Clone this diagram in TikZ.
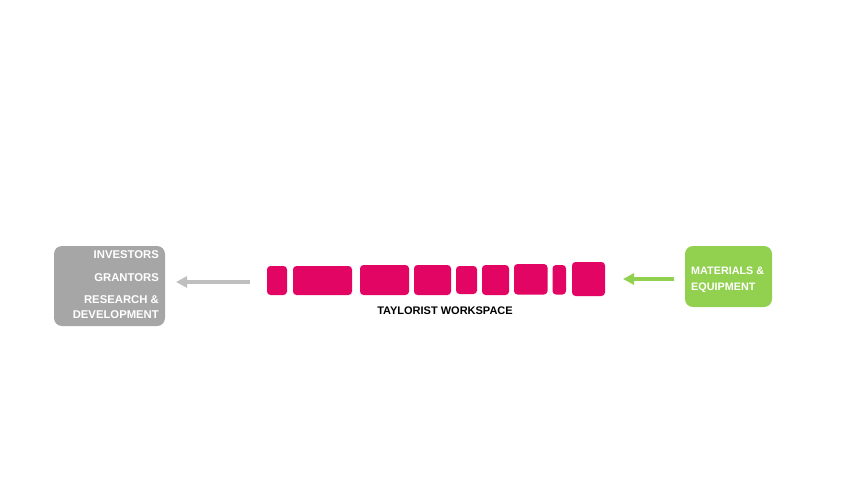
\documentclass[tikz,border=0pt]{standalone}
\usepackage{fontspec}
\setmainfont{Liberation Sans}
\usetikzlibrary{arrows.meta}
\begin{document}
\begin{tikzpicture}[x=1pt,y=-1pt,
  blk/.style={fill=magentab,draw=none,rounded corners=3.5pt},
  lbl/.style={font=\bfseries\fontsize{11.3}{12}\selectfont,text=white,inner sep=0pt},
  arr/.style={line width=3.3pt,-{Triangle[length=11pt,width=11pt]}}]
\definecolor{magentab}{HTML}{E30564}
\definecolor{greenb}{HTML}{92D050}
\definecolor{grayb}{HTML}{A6A6A6}
\definecolor{grayarr}{HTML}{BFBFBF}
\useasboundingbox (0,0) rectangle (853,480);
% gray box
\node[fill=grayb,rounded corners=8pt,minimum width=111pt,minimum height=80pt,inner sep=0pt] (inv) at (109.5,286) {};
\node[lbl,anchor=east] (t1) at (159,255) {INVESTORS};
\node[lbl,anchor=east] (t2) at (159,278) {GRANTORS};
\node[lbl,anchor=east] (t3) at (159,300) {RESEARCH \&};
\node[lbl,anchor=east] (t4) at (159,315) {DEVELOPMENT};
% green box
\node[fill=greenb,rounded corners=8pt,minimum width=87pt,minimum height=61pt,inner sep=0pt] (mat) at (728.5,276.5) {};
\node[lbl,anchor=west,font=\bfseries\fontsize{10.8}{12}\selectfont] (m1) at (691,271) {MATERIALS \&};
\node[lbl,anchor=west,font=\bfseries\fontsize{10.8}{12}\selectfont] (m2) at (691,288) {EQUIPMENT};
% blocks
\fill[blk] (267,266) rectangle (287,295);
\fill[blk] (293,266) rectangle (352,295);
\fill[blk] (360,265) rectangle (409,295);
\fill[blk] (414,265) rectangle (451,295);
\fill[blk] (456,266) rectangle (477,294);
\fill[blk] (482,265) rectangle (509,295);
\fill[blk] (514,264) rectangle (547.5,294.5);
\fill[blk] (552.5,265) rectangle (566,294.5);
\fill[blk] (572,262) rectangle (605,296);
\node[font=\bfseries\fontsize{11}{12}\selectfont,inner sep=0pt] (ws) at (445,311) {TAYLORIST WORKSPACE};
% arrow endpoints
\coordinate (gs) at (250,282);
\coordinate (ge) at (176,282);
\coordinate (ns) at (674,279);
\coordinate (ne) at (623,279);
\draw[arr,grayarr] (gs) -- (ge);
\draw[arr,greenb] (ns) -- (ne);
\end{tikzpicture}
\end{document}
